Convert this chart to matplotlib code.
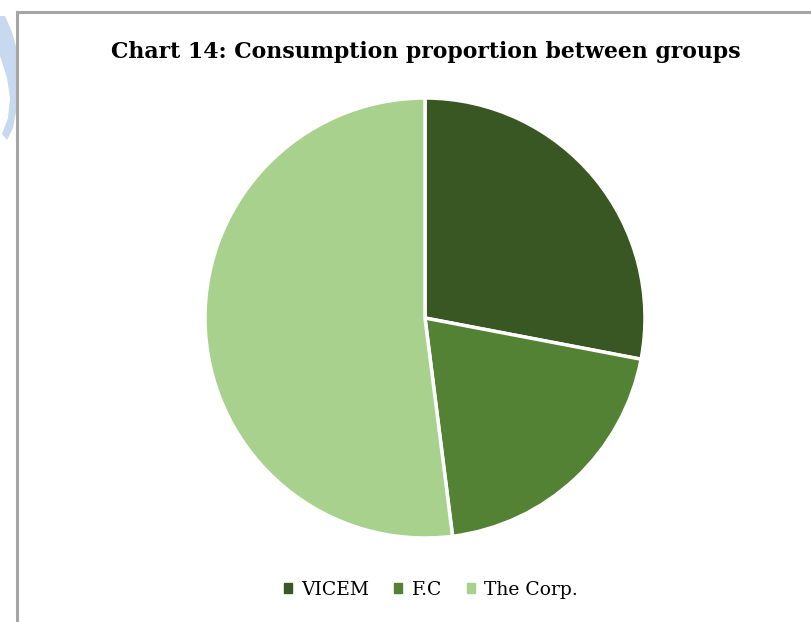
import matplotlib.pyplot as plt
from matplotlib.patches import Polygon, Rectangle

labels = ['VICEM', 'F.C', 'The Corp.']
shares = [28, 20, 52]
colors = ['#385723', '#548235', '#A9D18E']

W, H = 812, 622
fig = plt.figure(figsize=(W / 100, H / 100), dpi=100)

def px(x, y):
    return (x / W, 1 - y / H)

# faint blue page decoration at top-left
blob = [(0, 16), (5, 16), (12, 32), (17, 50), (17, 80), (16, 112), (13, 128),
        (7, 140), (2, 134), (8, 118), (10, 98), (7, 78), (2, 62), (0, 56)]
fig.add_artist(Polygon([px(*p) for p in blob], closed=True,
                       transform=fig.transFigure, facecolor='#c6d9ee',
                       edgecolor='none', zorder=0))

# chart frame
x0, y0 = px(17, 12)
fig.add_artist(Rectangle((x0, -0.05), 1.1, y0 + 0.05, transform=fig.transFigure,
                         fill=False, edgecolor='#a6a6a6', linewidth=2.2, zorder=5))

ax = fig.add_axes([(425 - 220) / W, 1 - 538 / H, 440 / W, 440 / H])
ax.pie(shares, colors=colors, startangle=90, counterclock=False,
       wedgeprops=dict(edgecolor='white', linewidth=2.5))
ax.set_xlim(-1, 1)
ax.set_ylim(-1, 1)
ax.set_aspect('equal')

fig.text(426 / W, 1 - 52 / H, 'Chart 14: Consumption proportion between groups',
         ha='center', va='center', fontsize=15.8, fontweight='bold',
         family='DejaVu Serif')

handles = [Rectangle((0, 0), 1, 1, color=c) for c in colors]
fig.legend(handles, labels, loc='center', bbox_to_anchor=(431 / W, 1 - 590 / H),
           ncol=3, frameon=False, handlelength=0.45, handleheight=0.45,
           handletextpad=0.5, columnspacing=1.3,
           prop=dict(family='DejaVu Serif', size=13.5))

fig.savefig('out.png', dpi=100)
